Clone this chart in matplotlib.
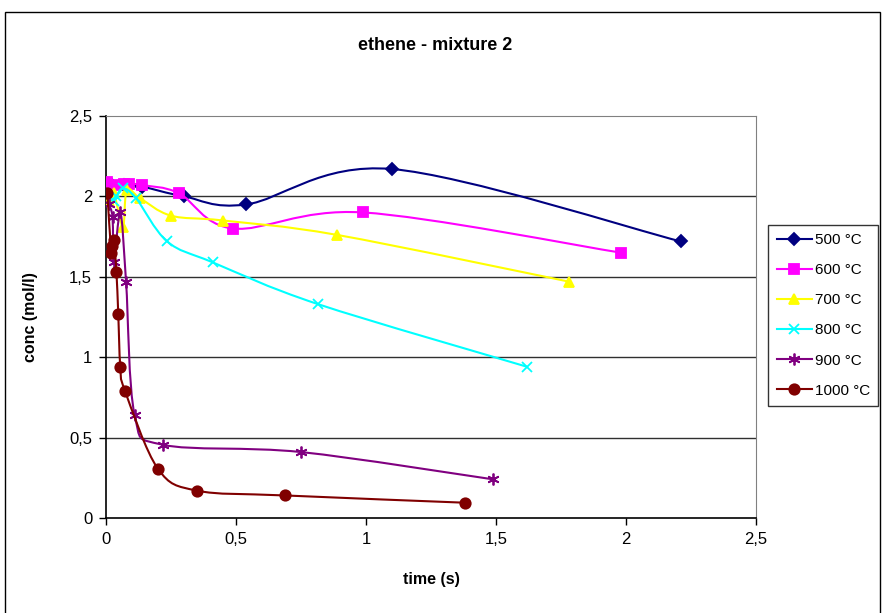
import matplotlib
matplotlib.use("Agg")
import numpy as np
import matplotlib.pyplot as plt
from matplotlib.path import Path
from matplotlib.patches import PathPatch, Rectangle
from matplotlib.lines import Line2D

plt.rcParams['font.family'] = ['Liberation Sans', 'DejaVu Sans']

# data
labels = ['500 °C', '600 °C', '700 °C', '800 °C', '900 °C', '1000 °C']
t500 = [0.02, 0.07, 0.14, 0.30, 0.54, 1.10, 2.21]
c500 = [2.08, 2.07, 2.06, 2.00, 1.95, 2.17, 1.72]
t600 = [0.005, 0.04, 0.07, 0.09, 0.14, 0.28, 0.49, 0.99, 1.98]
c600 = [2.09, 2.07, 2.08, 2.08, 2.07, 2.02, 1.80, 1.90, 1.65]
t700 = [0.01, 0.03, 0.065, 0.08, 0.13, 0.25, 0.45, 0.89, 1.78]
c700 = [1.97, 2.02, 1.81, 2.04, 1.99, 1.88, 1.85, 1.76, 1.47]
t800 = [0.03, 0.04, 0.065, 0.115, 0.235, 0.41, 0.815, 1.62]
c800 = [1.97, 2.00, 2.05, 1.99, 1.72, 1.59, 1.33, 0.94]
t900 = [0.01, 0.025, 0.03, 0.055, 0.077, 0.11, 0.22, 0.75, 1.49]
c900 = [1.95, 1.87, 1.59, 1.90, 1.47, 0.64, 0.455, 0.41, 0.24]
t1000 = [0.005, 0.02, 0.023, 0.03, 0.04, 0.047, 0.055, 0.073, 0.20, 0.35, 0.69, 1.38]
c1000 = [2.02, 1.65, 1.69, 1.73, 1.53, 1.27, 0.94, 0.79, 0.305, 0.17, 0.14, 0.095]

xticks = [0, 0.5, 1, 1.5, 2, 2.5]
xticklabels = ['0', '0,5', '1', '1,5', '2', '2,5']
yticklabels = ['0', '0,5', '1', '1,5', '2', '2,5']

series = [(t500, c500), (t600, c600), (t700, c700),
          (t800, c800), (t900, c900), (t1000, c1000)]
colors = ['#000080', '#FF00FF', '#FFFF00', '#00FFFF', '#800080', '#800000']
markers = ['D', 's', '^', 'x', (6, 2, 0), 'o']
msizes = [6.5, 7.5, 7.5, 7, 8.5, 7.5]


def smooth_path(x, y):
    # Excel-like smoothed line: cubic Bezier through the points (Catmull-Rom)
    p = np.column_stack([x, y])
    ext = np.vstack([p[0], p, p[-1]])
    verts = [p[0]]
    codes = [Path.MOVETO]
    for i in range(len(p) - 1):
        a, b, c, d = ext[i], ext[i + 1], ext[i + 2], ext[i + 3]
        verts += [b + (c - a) / 6, c - (d - b) / 6, c]
        codes += [Path.CURVE4] * 3
    return Path(verts, codes)


fig = plt.figure(figsize=(8.85, 6.13), dpi=100)
ax = fig.add_axes([0.1198, 0.155, 0.7345, 0.6558])

handles = []
for k, ((x, y), col, m, ms) in enumerate(zip(series, colors, markers, msizes)):
    ax.add_patch(PathPatch(smooth_path(x, y), facecolor='none', edgecolor=col,
                           lw=1.5, zorder=2 + k))
    ax.plot(x, y, linestyle='none', marker=m, ms=ms, color=col,
            mec=col, mew=1.3, zorder=2.5 + k)
    handles.append(Line2D([], [], color=col, lw=1.5, marker=m, ms=ms,
                          mec=col, mew=1.3))

ax.set_xlim(0, 2.5)
ax.set_ylim(0, 2.5)
ax.set_xticks(xticks)
ax.set_xticklabels(xticklabels)
ax.set_yticks(xticks)
ax.set_yticklabels(yticklabels)
ax.tick_params(direction='out', length=5, width=1, labelsize=12, pad=5)
for yv in [0.5, 1, 1.5, 2]:
    ax.axhline(yv, color='#303030', lw=1, zorder=1)
ax.spines['top'].set_color('#808080')
ax.spines['right'].set_color('#808080')
for s in ['left', 'bottom']:
    ax.spines[s].set_linewidth(1.2)

ax.set_xlabel('time (s)', fontsize=11.5, fontweight='bold', labelpad=18)
ax.set_ylabel('conc (mol/l)', fontsize=11.5, fontweight='bold', labelpad=22)
fig.text(0.492, 0.925, 'ethene - mixture 2', ha='center', va='center',
         fontsize=13, fontweight='bold')

fig.legend(handles, labels, loc='upper left', bbox_to_anchor=(0.868, 0.633),
           frameon=True, fancybox=False, edgecolor='black', fontsize=11,
           handlelength=2.3, labelspacing=1.05, borderpad=0.55,
           handletextpad=0.2, borderaxespad=0)

fig.patches.append(Rectangle((5 / 885, -0.05), 875 / 885, 1.05 - 12 / 613,
                             transform=fig.transFigure, fill=False,
                             edgecolor='black', lw=1))

fig.savefig('out.png', dpi=100)
